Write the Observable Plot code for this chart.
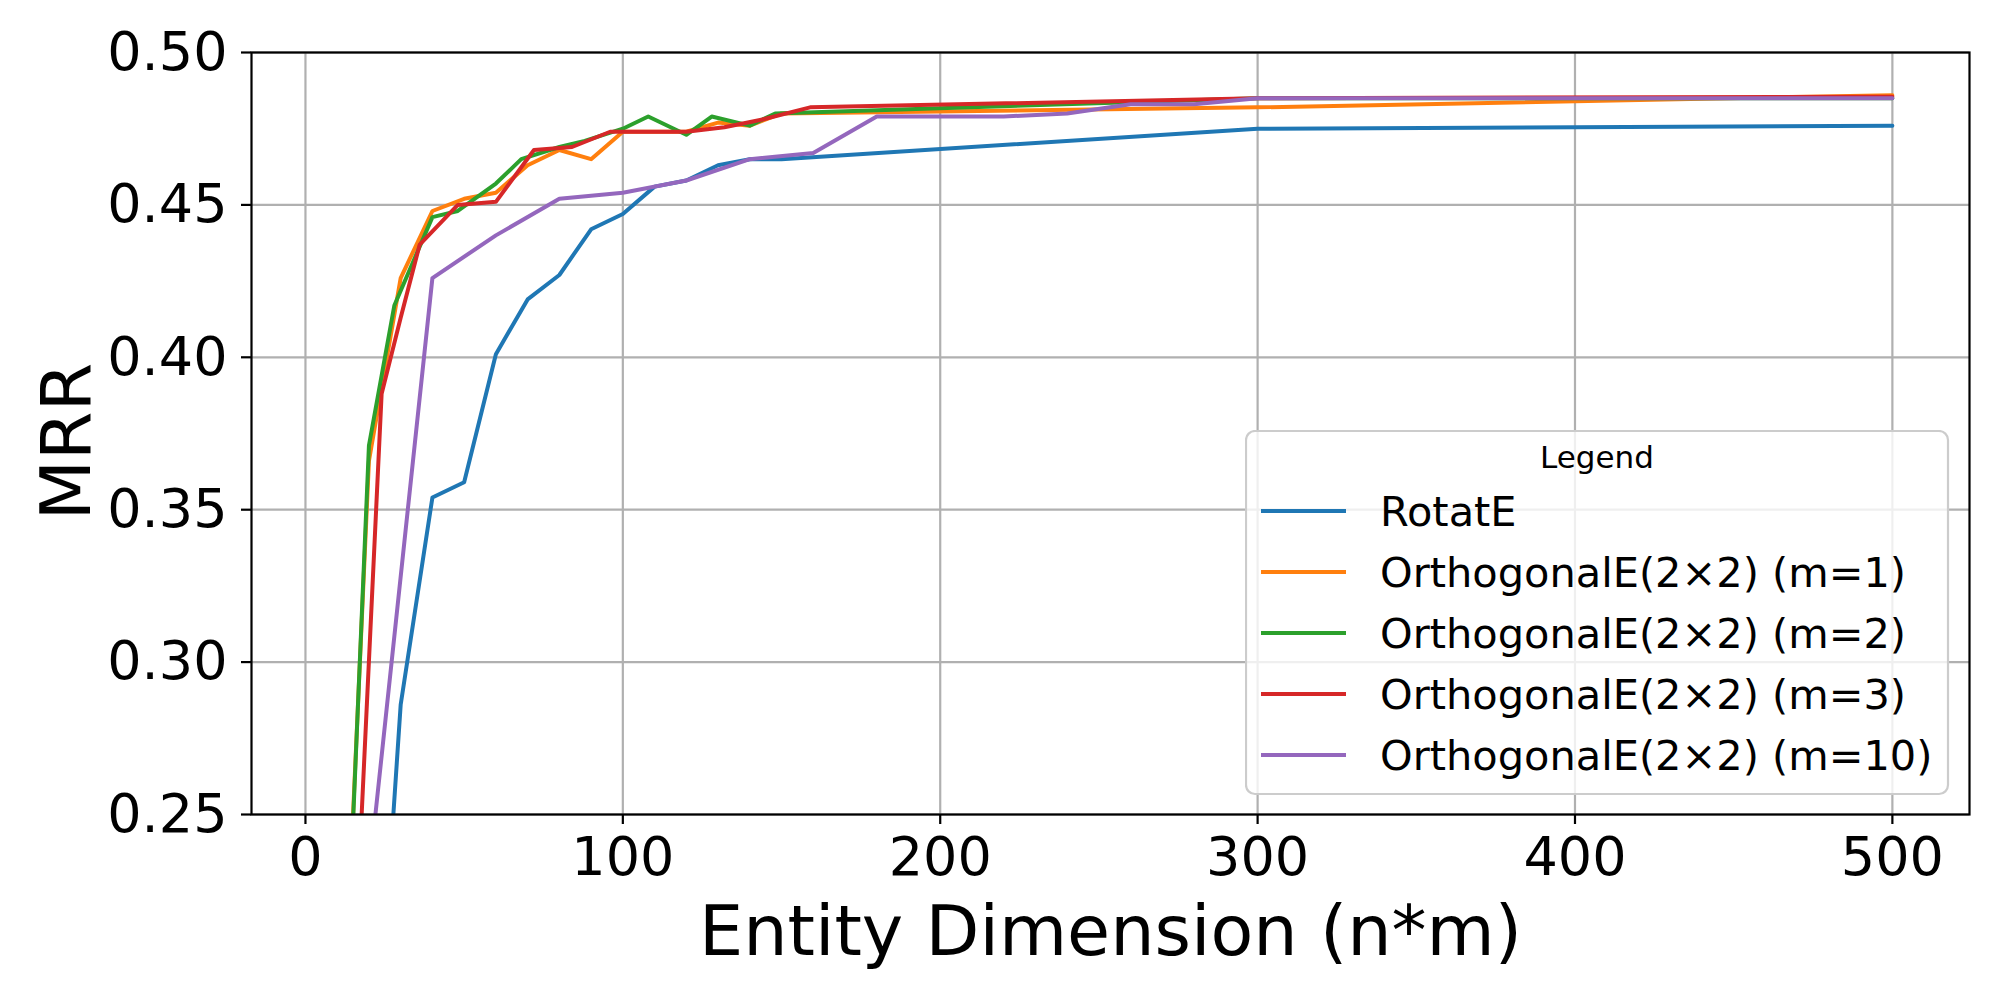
<!DOCTYPE html>
<html><head><meta charset="utf-8">
<script src="https://cdn.jsdelivr.net/npm/d3@7"></script>
<script src="https://cdn.jsdelivr.net/npm/@observablehq/plot@0.6"></script>
<style>
body{margin:0;background:white;}
#wrap{position:relative;width:2000px;height:1000px;}
#legend{position:absolute;left:1245px;top:430px;}
</style></head><body>
<div id="wrap"></div>
<script>
const xTicks = [0, 100, 200, 300, 400, 500];
const yTicks = [0.25, 0.30, 0.35, 0.40, 0.45, 0.50];
const seriesNames = ["RotatE", "OrthogonalE(2×2) (m=1)", "OrthogonalE(2×2) (m=2)", "OrthogonalE(2×2) (m=3)", "OrthogonalE(2×2) (m=10)"];
const colors = ["#1f77b4", "#ff7f0e", "#2ca02c", "#d62728", "#9467bd"];

const rotatE_x = [20, 30, 40, 50, 60, 70, 80, 90, 100, 110, 120, 130, 140, 150, 300, 500];
const rotatE_y = [0.13, 0.286, 0.354, 0.359, 0.401, 0.419, 0.427, 0.442, 0.447, 0.456, 0.458, 0.463, 0.465, 0.465, 0.475, 0.476];

const m1_x = [10, 20, 30, 40, 50, 60, 70, 80, 90, 100, 110, 120, 130, 140, 150, 300, 500];
const m1_y = [0.134, 0.366, 0.426, 0.448, 0.452, 0.454, 0.463, 0.468, 0.465, 0.474, 0.474, 0.474, 0.477, 0.476, 0.480, 0.482, 0.486];

const m2_x = [8, 20, 24, 28, 40, 48, 60, 68, 80, 88, 100, 108, 120, 128, 140, 148, 300, 500];
const m2_y = [0.075, 0.371, 0.394, 0.417, 0.446, 0.448, 0.457, 0.465, 0.469, 0.471, 0.475, 0.479, 0.473, 0.479, 0.476, 0.480, 0.485, 0.485];

const m3_x = [12, 24, 30, 36, 48, 60, 72, 84, 96, 108, 120, 132, 144, 159, 300, 500];
const m3_y = [0.125, 0.388, 0.413, 0.437, 0.450, 0.451, 0.468, 0.469, 0.474, 0.474, 0.474, 0.4755, 0.478, 0.482, 0.485, 0.4855];

const m10_x = [20, 40, 60, 80, 100, 120, 140, 160, 180, 200, 220, 240, 260, 280, 300, 500];
const m10_y = [0.230, 0.426, 0.440, 0.452, 0.454, 0.458, 0.465, 0.467, 0.479, 0.479, 0.479, 0.480, 0.483, 0.483, 0.485, 0.485];

const xs = [rotatE_x, m1_x, m2_x, m3_x, m10_x];
const ys = [rotatE_y, m1_y, m2_y, m3_y, m10_y];
const series = seriesNames.map((name, i) => ({
  name, color: colors[i],
  rows: xs[i].map((x, j) => ({x, y: ys[i][j]}))
}));

const chart = Plot.plot({
  width: 2000, height: 1000,
  marginLeft: 251, marginRight: 31, marginTop: 52, marginBottom: 186,
  style: {fontFamily: "DejaVu Sans", background: "white", color: "black"},
  x: {domain: [-17, 524.3]},
  y: {domain: [0.25, 0.50]},
  marks: [
    Plot.gridX(xTicks, {stroke: "#b0b0b0", strokeOpacity: 1, strokeWidth: 2.2}),
    Plot.gridY(yTicks, {stroke: "#b0b0b0", strokeOpacity: 1, strokeWidth: 2.2}),
    ...series.map(s => Plot.line(s.rows, {x: "x", y: "y", stroke: s.color, strokeWidth: 4, clip: true})),
    Plot.frame({stroke: "black", strokeWidth: 2.2}),
    Plot.axisX(xTicks, {tickSize: 10, tickPadding: 12, fontSize: 54, strokeWidth: 2.2, label: null, tickFormat: d => String(d)}),
    Plot.axisY(yTicks, {tickSize: 10, tickPadding: 14, fontSize: 54, strokeWidth: 2.2, label: null, tickFormat: d3.format(".2f")}),
    Plot.text(["Entity Dimension (n*m)"], {text: d => d, frameAnchor: "bottom", lineAnchor: "bottom", textAnchor: "middle", dy: 140, fontSize: 70, fill: "black"}),
    Plot.text(["MRR"], {text: d => d, frameAnchor: "left", textAnchor: "middle", lineAnchor: "middle", dx: -184, dy: 8, rotate: -90, fontSize: 70, fill: "black"})
  ]
});
const wrap = document.getElementById("wrap");
wrap.appendChild(chart);

// Legend
const lw = 704, lh = 365;
const leg = d3.select(wrap).append("svg").attr("id", "legend")
  .attr("width", lw + 2).attr("height", lh + 2)
  .style("font-family", "DejaVu Sans");
leg.append("rect").attr("x", 1).attr("y", 1).attr("width", lw - 2).attr("height", lh - 2)
  .attr("rx", 9).attr("fill", "white").attr("fill-opacity", 0.8)
  .attr("stroke", "#cccccc").attr("stroke-width", 2.2);
leg.append("text").attr("x", 352).attr("y", 38).attr("text-anchor", "middle")
  .attr("font-size", 31).attr("fill", "black").text("Legend");
series.forEach((s, i) => {
  const y = 81 + i * 61;
  leg.append("line").attr("x1", 16).attr("x2", 101).attr("y1", y).attr("y2", y)
    .attr("stroke", s.color).attr("stroke-width", 4);
  leg.append("text").attr("x", 135).attr("y", y + 15)
    .attr("font-size", 41.5).attr("fill", "black").text(s.name);
});
</script>
</body></html>
